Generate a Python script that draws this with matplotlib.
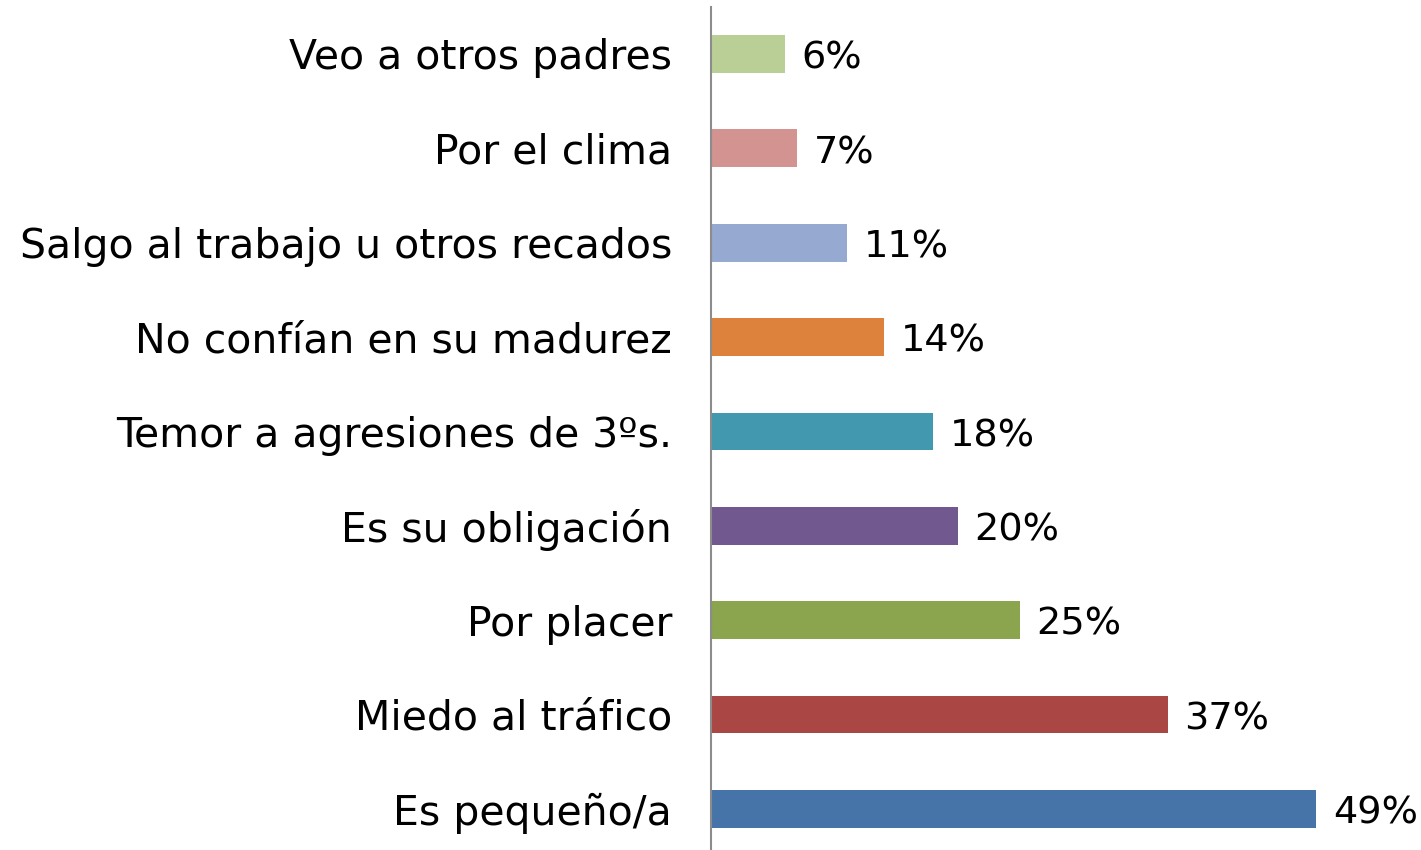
import matplotlib
matplotlib.use("Agg")
import matplotlib.pyplot as plt

categories = [
    "Es pequeño/a",
    "Miedo al tráfico",
    "Por placer",
    "Es su obligación",
    "Temor a agresiones de 3ºs.",
    "No confían en su madurez",
    "Salgo al trabajo u otros recados",
    "Por el clima",
    "Veo a otros padres",
]
values = [49, 37, 25, 20, 18, 14, 11, 7, 6]
colors = ["#4673A8", "#AA4644", "#8AA54E", "#71588F", "#4298AF",
          "#DD823D", "#95A9D1", "#D39391", "#BACF96"]

fig = plt.figure(figsize=(14.21, 8.5), dpi=100)
ax = fig.add_axes([0.5003, -0.007, 0.478, 0.999])

y = range(len(categories))
ax.barh(y, values, height=0.40, color=colors)
ax.set_ylim(-0.5, len(categories) - 0.5)
ax.set_xlim(0, 55)

ax.set_yticks(list(y))
ax.set_yticklabels(categories, fontsize=29.5, family="DejaVu Sans")
ax.tick_params(axis="y", length=0, pad=28)
ax.set_xticks([])

for s in ["top", "right", "bottom"]:
    ax.spines[s].set_visible(False)
ax.spines["left"].set_color("#8c8c8c")
ax.spines["left"].set_linewidth(1.5)

for yi, v in zip(y, values):
    ax.annotate(f"{v}%", xy=(v, yi), xytext=(12, -3.5), textcoords="offset points",
                va="center", ha="left", fontsize=27.5, family="DejaVu Sans")

fig.savefig("out.png", dpi=100)
